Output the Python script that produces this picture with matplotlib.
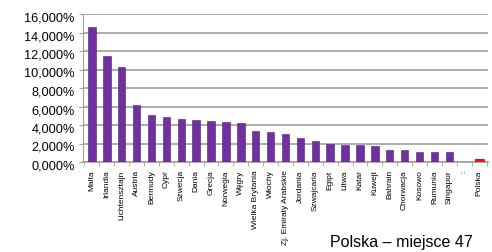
import matplotlib
matplotlib.use("Agg")
import matplotlib.pyplot as plt
import matplotlib.transforms as mtransforms
import numpy as np

categories = ["Malta", "Irlandia", "Lichtensztajn", "Austria", "Bermudy", "Cypr",
              "Szwecja", "Dania", "Grecja", "Norwegia", "Węgry", "Wielka Brytania",
              "Włochy", "Zj. Emiraty Arabskie", "Jordania", "Szwajcaria", "Egipt",
              "Litwa", "Katar", "Kuwejt", "Bahrain", "Chorwacja", "Kosowo",
              "Rumunia", "Singapur", ":", "Polska"]
values = [14.6, 11.5, 10.3, 6.2, 5.05, 4.85, 4.65, 4.57, 4.46, 4.33, 4.18, 3.38,
          3.27, 3.04, 2.61, 2.25, 1.92, 1.88, 1.83, 1.72, 1.35, 1.35, 1.08,
          1.08, 1.05, 0.0, 0.3]
yticks = [0, 2, 4, 6, 8, 10, 12, 14, 16]
ytick_labels = ["0,000%", "2,000%", "4,000%", "6,000%", "8,000%", "10,000%",
                "12,000%", "14,000%", "16,000%"]
note = "Polska – miejsce 47"

plt.rcParams['font.family'] = ['Liberation Sans', 'DejaVu Sans']

fig = plt.figure(figsize=(4.92, 2.52), dpi=100)
ax = fig.add_axes([83/492, 1-162/252, (488-83)/492, (162-14)/252])

x = np.arange(len(categories))
colors = ["#7030A0"] * len(categories)
colors[-1] = "#FF1010"
ax.bar(x, values, width=0.5, color=colors, edgecolor="#4B1F6E", linewidth=0.4, zorder=3)
ax.bar(x[-1:], values[-1:], width=0.6, color="#FF1010", edgecolor="#C00000", linewidth=0.4, zorder=4)

ax.set_xlim(-0.6, len(categories) - 0.4)
ax.set_ylim(0, 16)
ax.set_yticks(yticks)
ax.set_yticklabels(ytick_labels, fontsize=9.2)
ax.set_xticks(x)
ax.set_xticklabels(categories, rotation=90, fontsize=6)
ax.set_xticks(np.arange(-0.5, len(categories), 1), minor=True)
ax.tick_params(axis='x', which='major', length=0, pad=6)
ax.tick_params(axis='x', which='minor', length=3, color="#A0A0A0", direction='out')
ax.tick_params(axis='y', length=3, color="#A0A0A0", pad=3)

off = mtransforms.ScaledTranslation(0, -3/100, fig.dpi_scale_trans)
for lab in ax.get_yticklabels():
    lab.set_transform(lab.get_transform() + off)

ax.grid(axis='y', color="#A6A6A6", linewidth=1.3, zorder=0)
for s in ["top", "right"]:
    ax.spines[s].set_visible(False)
ax.spines["left"].set_color("#A0A0A0")
ax.spines["bottom"].set_color("#A0A0A0")
ax.spines["bottom"].set_linewidth(1.2)

fig.text(401/492, 1-243/252, note, fontsize=11.5, ha='center', va='center')

fig.savefig("out.png", dpi=100)
